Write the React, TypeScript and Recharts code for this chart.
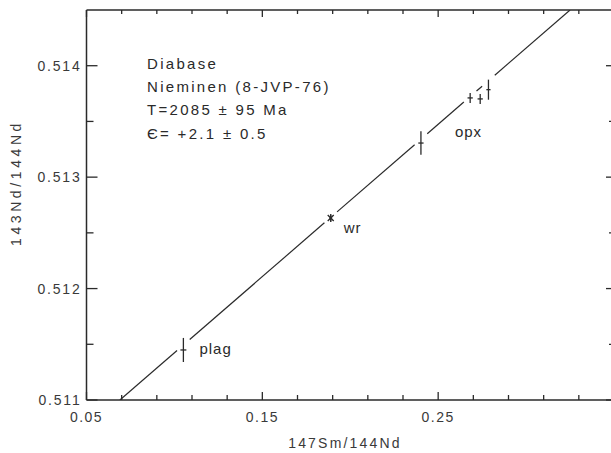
import React from "react";
import { ComposedChart, Scatter, XAxis, YAxis, ErrorBar } from "recharts";

// axis ticks
const xTicks = [0.05, 0.07, 0.09, 0.11, 0.13, 0.15, 0.17, 0.19, 0.21, 0.23, 0.25, 0.27, 0.29, 0.31, 0.33, 0.35];
const xMajor = [0.05, 0.15, 0.25, 0.35];
const xLabelled = [0.05, 0.15, 0.25];
const yTicks = [0.511, 0.5115, 0.512, 0.5125, 0.513, 0.5135, 0.514];
const yMajor = [0.511, 0.512, 0.513, 0.514];

// isochron end points
const isoX = [0.069, 0.325];
const isoY = [0.511, 0.5145];

// mineral / whole rock analyses
const sampleKind = ["plag", "wr", "opx", "opx", "opx", "opx"];
const sampleTag = ["plag", "wr", "opx", "", "", ""];
const sampleX = [0.1051, 0.1889, 0.2402, 0.2682, 0.2739, 0.2786];
const sampleY = [0.511449, 0.512633, 0.513306, 0.513711, 0.513702, 0.513785];
const sampleErrX = [0.0017, 0.0008, 0.0015, 0.0015, 0.0015, 0.0012];
const sampleErrY = [0.000108, 0.00003, 0.000105, 0.000045, 0.000045, 0.00009];

const infoLines = ["Diabase", "Nieminen (8-JVP-76)", "T=2085 \u00b1 95 Ma", "\u0404= +2.1 \u00b1 0.5"];

// the isochron is broken where it passes through the analyses
const GAP = 0.0036;
const slope = (isoY[1] - isoY[0]) / (isoX[1] - isoX[0]);
const onLine = (x: number) => ({ x, y: isoY[0] + (x - isoX[0]) * slope });
const breaks = [isoX[0], sampleX[0], sampleX[1], sampleX[2], sampleX[3], sampleX[5], isoX[1]];
const isoSegments = breaks.slice(0, -1).map((b, i) => [
  onLine(i === 0 ? b : b + GAP),
  onLine(i === breaks.length - 2 ? breaks[i + 1] : breaks[i + 1] - GAP),
]);
const opxJoin = [onLine(sampleX[3]), onLine(sampleX[5])];

const samples = sampleX.map((x, i) => ({
  x,
  y: sampleY[i],
  ex: sampleErrX[i],
  ey: sampleErrY[i],
  kind: sampleKind[i],
  tag: sampleTag[i],
}));

const INK = "#2a2a2a";
const FONT = "'Liberation Sans', Arial, sans-serif";
const has = (arr: number[], v: number) => arr.some((a) => Math.abs(a - v) < 1e-9);

const BottomTick = ({ x, y, payload }: any) => {
  const v = payload.value;
  const len = has(xMajor, v) ? 8 : 5;
  return (
    <g>
      <path d={`M${x},${y}V${y - len}`} stroke={INK} strokeWidth={1.3} />
      {has(xLabelled, v) && (
        <text x={x} y={y + 22} textAnchor="middle" fontSize={14} letterSpacing={1.5} fill="#3a3a3a" fontFamily={FONT}>
          {v.toFixed(2)}
        </text>
      )}
    </g>
  );
};

const TopTick = ({ x, y, payload }: any) => {
  const len = has(xMajor, payload.value) ? 7 : 4;
  return <path d={`M${x},${y}V${y + len}`} stroke={INK} strokeWidth={1.3} />;
};

const LeftTick = ({ x, y, payload }: any) => {
  const v = payload.value;
  const major = has(yMajor, v);
  return (
    <g>
      <path d={`M${x},${y}H${x + (major ? 11 : 7)}`} stroke={INK} strokeWidth={1.3} />
      {major && (
        <text x={x - 5} y={y + 5} textAnchor="end" fontSize={14} letterSpacing={1.8} fill="#3a3a3a" fontFamily={FONT}>
          {v.toFixed(3)}
        </text>
      )}
    </g>
  );
};

const RightTick = ({ x, y, payload }: any) => {
  const len = has(yMajor, payload.value) ? 8 : 5;
  return <path d={`M${x},${y}H${x - len}`} stroke={INK} strokeWidth={1.3} />;
};

const tagOffset: Record<string, [number, number]> = {
  plag: [16, 4],
  wr: [13, 15],
  opx: [34, -6],
};

const SampleMark = (p: any) => {
  const { cx, cy, payload } = p;
  const off = tagOffset[payload.tag];
  return (
    <g>
      {payload.kind === "wr" && (
        <g stroke={INK} strokeWidth={1.3}>
          <line x1={cx - 3} x2={cx + 3} y1={cy - 3} y2={cy + 3} />
          <line x1={cx - 3} x2={cx + 3} y1={cy + 3} y2={cy - 3} />
          <line x1={cx} x2={cx} y1={cy - 4} y2={cy + 4} />
        </g>
      )}
      {off && (
        <text x={cx + off[0]} y={cy + off[1]} fontSize={15} letterSpacing={1} fill={INK} fontFamily={FONT}>
          {payload.tag}
        </text>
      )}
    </g>
  );
};

const axisCommon = {
  type: "number" as const,
  interval: 0 as const,
  tickSize: 0,
  tickMargin: 0,
  axisLine: { stroke: INK, strokeWidth: 1.5 },
  allowDataOverflow: true,
};

export default function App() {
  return (
    <div style={{ position: "absolute", left: 0, top: 0, width: 611, height: 453, overflow: "hidden", background: "#fff" }}>
      <ComposedChart width={615} height={453} margin={{ top: 9, right: 0, bottom: 0, left: 0 }}>
        <XAxis {...axisCommon} dataKey="x" domain={[0.05, 0.35]} ticks={xTicks} height={53} tick={BottomTick} />
        <XAxis
          {...axisCommon}
          xAxisId="top"
          orientation="top"
          dataKey="x"
          domain={[0.05, 0.35]}
          ticks={xTicks}
          height={1}
          tick={TopTick}
        />
        <YAxis {...axisCommon} dataKey="y" domain={[0.511, 0.5145]} ticks={yTicks} width={86.5} tick={LeftTick} />
        <YAxis
          {...axisCommon}
          yAxisId="right"
          orientation="right"
          dataKey="y"
          domain={[0.511, 0.5145]}
          ticks={yTicks}
          width={1}
          tick={RightTick}
        />
        {isoSegments.map((seg, i) => (
          <Scatter
            key={i}
            data={seg}
            line={{ stroke: INK, strokeWidth: 1.2 }}
            shape={() => <g />}
            isAnimationActive={false}
          />
        ))}
        <Scatter data={opxJoin} shape={() => <g />} isAnimationActive={false} />
        <Scatter xAxisId="top" yAxisId="right" data={opxJoin} shape={() => <g />} isAnimationActive={false} />
        <Scatter data={samples} shape={SampleMark} isAnimationActive={false}>
          <ErrorBar dataKey="ey" direction="y" width={0} stroke={INK} strokeWidth={1.3} />
          <ErrorBar dataKey="ex" direction="x" width={0} stroke={INK} strokeWidth={1.3} />
        </Scatter>
      </ComposedChart>
      <svg width={611} height={453} style={{ position: "absolute", left: 0, top: 0, pointerEvents: "none" }}>
        <g fontFamily={FONT} fontSize={15} letterSpacing={2.3} fill={INK}>
          {infoLines.map((t, i) => (
            <text key={i} x={147} y={69 + i * 23.2}>
              {t}
            </text>
          ))}
        </g>
        <text x={345} y={448} textAnchor="middle" fontFamily={FONT} fontSize={14} letterSpacing={2.2} fill="#3a3a3a">
          147Sm/144Nd
        </text>
        <text
          x={0}
          y={0}
          transform="translate(21,183) rotate(-90)"
          textAnchor="middle"
          fontFamily={FONT}
          fontSize={14}
          letterSpacing={3.6}
          fill="#3a3a3a"
        >
          143Nd/144Nd
        </text>
      </svg>
    </div>
  );
}
